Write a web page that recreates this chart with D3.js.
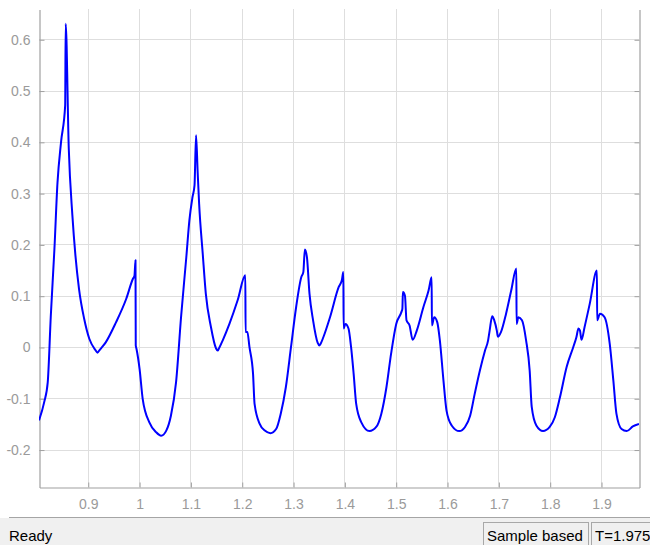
<!DOCTYPE html>
<html>
<head>
<meta charset="utf-8">
<script src="https://cdn.jsdelivr.net/npm/d3@7"></script>
<style>
  html, body { margin: 0; padding: 0; background: #ffffff; }
  svg { display: block; }
  text { font-family: "Liberation Sans", Arial, sans-serif; }
</style>
</head>
<body>
<svg id="chart" width="650" height="545"></svg>
<script>
// Time axis (s) of the sampled signal
const tSec = [
  0.805, 0.815, 0.822, 0.828, 0.835, 0.841, 0.848, 0.856, 0.857, 0.863,
  0.870, 0.876, 0.883, 0.893, 0.903, 0.915, 0.919, 0.923, 0.935, 0.955,
  0.975, 0.988, 0.991, 0.993, 0.9935, 0.995, 1.001, 1.007, 1.020, 1.033,
  1.043, 1.053, 1.062, 1.072, 1.082, 1.092, 1.098, 1.104, 1.108, 1.111,
  1.114, 1.117, 1.124, 1.130, 1.140, 1.150, 1.153, 1.156, 1.163, 1.176,
  1.192, 1.207, 1.2075, 1.211, 1.215, 1.222, 1.225, 1.235, 1.245, 1.256,
  1.267, 1.276, 1.286, 1.296, 1.306, 1.316, 1.320, 1.323, 1.327, 1.332,
  1.339, 1.348, 1.351, 1.354, 1.359, 1.372, 1.389, 1.395, 1.398, 1.3985,
  1.402, 1.408, 1.413, 1.418, 1.423, 1.433, 1.449, 1.462, 1.472, 1.482,
  1.491, 1.501, 1.511, 1.513, 1.514, 1.518, 1.521, 1.527, 1.533, 1.541,
  1.554, 1.564, 1.570, 1.5705, 1.575, 1.581, 1.586, 1.593, 1.599, 1.609,
  1.624, 1.635, 1.645, 1.654, 1.664, 1.674, 1.680, 1.683, 1.688, 1.692,
  1.697, 1.699, 1.705, 1.715, 1.725, 1.735, 1.7355, 1.739, 1.746, 1.754,
  1.761, 1.765, 1.774, 1.787, 1.800, 1.810, 1.820, 1.833, 1.846, 1.852,
  1.856, 1.859, 1.862, 1.868, 1.878, 1.892, 1.8925, 1.898, 1.907, 1.917,
  1.924, 1.930, 1.940, 1.950, 1.962, 1.974
];

// Signal amplitude at each time sample
const signal = [
  -0.143, -0.108, -0.069, 0.061, 0.190, 0.320, 0.400, 0.471, 0.630, 0.387,
  0.257, 0.178, 0.113, 0.055, 0.016, -0.006, -0.011, -0.006, 0.009, 0.048,
  0.094, 0.133, 0.139, 0.169, 0.003, -0.004, -0.043, -0.101, -0.147, -0.166,
  -0.173, -0.163, -0.134, -0.069, 0.061, 0.175, 0.247, 0.292, 0.315, 0.413,
  0.344, 0.279, 0.182, 0.104, 0.039, -0.003, -0.007, -0.002, 0.013, 0.045,
  0.091, 0.140, 0.029, 0.029, 0.000, -0.052, -0.111, -0.150, -0.163, -0.168,
  -0.160, -0.130, -0.078, 0.000, 0.078, 0.136, 0.146, 0.190, 0.175, 0.104,
  0.052, 0.008, 0.003, 0.007, 0.019, 0.058, 0.117, 0.130, 0.146, 0.036,
  0.045, 0.036, 0.000, -0.052, -0.111, -0.147, -0.164, -0.156, -0.130, -0.078,
  -0.013, 0.045, 0.068, 0.075, 0.107, 0.100, 0.052, 0.042, 0.014, 0.032,
  0.078, 0.110, 0.136, 0.042, 0.058, 0.048, 0.013, -0.065, -0.124, -0.153,
  -0.164, -0.156, -0.134, -0.091, -0.046, -0.007, 0.013, 0.032, 0.060, 0.052,
  0.032, 0.020, 0.029, 0.065, 0.110, 0.153, 0.045, 0.058, 0.052, 0.013,
  -0.046, -0.117, -0.153, -0.164, -0.156, -0.137, -0.098, -0.039, 0.000, 0.019,
  0.036, 0.032, 0.014, 0.039, 0.084, 0.149, 0.052, 0.065, 0.058, 0.006,
  -0.065, -0.130, -0.160, -0.164, -0.155, -0.150
];

const xTicks = [0.9, 1.0, 1.1, 1.2, 1.3, 1.4, 1.5, 1.6, 1.7, 1.8, 1.9];
const xTickLabels = ["0.9", "1", "1.1", "1.2", "1.3", "1.4", "1.5", "1.6", "1.7", "1.8", "1.9"];
const yTicks = [-0.2, -0.1, 0, 0.1, 0.2, 0.3, 0.4, 0.5, 0.6];
const yTickLabels = ["-0.2", "-0.1", "0", "0.1", "0.2", "0.3", "0.4", "0.5", "0.6"];

const xDomain = [0.805, 1.974];
const yDomain = [-0.273, 0.659];

const statusText = "Ready";
const modeText = "Sample based";
const timeText = "T=1.975";

// Layout
const plot = { left: 39, right: 639, top: 9, bottom: 487 };
const svg = d3.select("#chart");

const x = d3.scaleLinear().domain(xDomain).range([plot.left, plot.right]);
const y = d3.scaleLinear().domain(yDomain).range([plot.bottom, plot.top]);

// Grid
const grid = svg.append("g").attr("stroke", "#dedede").attr("stroke-width", 1);
grid.selectAll("line.vx").data(xTicks).join("line")
  .attr("x1", d => Math.round(x(d)) + 0.5).attr("x2", d => Math.round(x(d)) + 0.5)
  .attr("y1", plot.top).attr("y2", plot.bottom);
grid.selectAll("line.hy").data(yTicks).join("line")
  .attr("x1", plot.left).attr("x2", plot.right)
  .attr("y1", d => Math.round(y(d)) + 0.5).attr("y2", d => Math.round(y(d)) + 0.5);

// Axes (ticks point inward)
const axisColor = "#a0a0a0";
const labelColor = "#9a9a9a";

const xAxis = d3.axisBottom(x).tickValues(xTicks)
  .tickFormat((d, i) => xTickLabels[i]).tickSizeInner(-5).tickSizeOuter(0).tickPadding(12);
const gx = svg.append("g").attr("transform", `translate(0.5,${plot.bottom + 0.5})`).call(xAxis);

const yAxis = d3.axisLeft(y).tickValues(yTicks)
  .tickFormat((d, i) => yTickLabels[i]).tickSizeInner(-5).tickSizeOuter(0).tickPadding(9);
const gy = svg.append("g").attr("transform", `translate(${plot.left + 0.5},0.5)`).call(yAxis);

const yAxisR = d3.axisRight(y).tickValues(yTicks).tickFormat("").tickSizeInner(-5).tickSizeOuter(0);
const gyr = svg.append("g").attr("transform", `translate(${plot.right + 0.5},0.5)`).call(yAxisR);

[gx, gy, gyr].forEach(g => {
  g.select(".domain").attr("stroke", axisColor).attr("stroke-width", 1.2);
  g.selectAll(".tick line").attr("stroke", axisColor);
  g.selectAll(".tick text")
    .attr("fill", labelColor)
    .style("font-family", "'Liberation Sans', Arial, sans-serif")
    .style("font-size", "14px");
});
gx.selectAll(".tick text").attr("dy", "0.71em");

// Signal trace
svg.append("clipPath").attr("id", "plotClip").append("rect")
  .attr("x", plot.left).attr("y", plot.top)
  .attr("width", plot.right - plot.left).attr("height", plot.bottom - plot.top);

const points = tSec.map((t, i) => [t, signal[i]]);
const line = d3.line().curve(d3.curveMonotoneX).x(d => x(d[0])).y(d => y(d[1]));

svg.append("path")
  .datum(points)
  .attr("clip-path", "url(#plotClip)")
  .attr("fill", "none")
  .attr("stroke", "#0000ff")
  .attr("stroke-width", 2)
  .attr("stroke-linejoin", "round")
  .attr("d", line);

// Status bar
const bar = svg.append("g");
bar.append("rect").attr("x", 0).attr("y", 518).attr("width", 650).attr("height", 27).attr("fill", "#f0f0f0");
bar.append("line").attr("x1", 9).attr("x2", 650).attr("y1", 517.5).attr("y2", 517.5)
  .attr("stroke", "#a5a5a5").attr("stroke-width", 1);
bar.append("text").attr("x", 9).attr("y", 541).attr("fill", "#000")
  .style("font-size", "15px").text(statusText);

bar.append("rect").attr("x", 483.5).attr("y", 522.5).attr("width", 105).attr("height", 30)
  .attr("fill", "none").attr("stroke", "#a8a8a8");
bar.append("text").attr("x", 487).attr("y", 541).attr("fill", "#000")
  .style("font-size", "15px").text(modeText);

bar.append("rect").attr("x", 591.5).attr("y", 522.5).attr("width", 70).attr("height", 30)
  .attr("fill", "none").attr("stroke", "#a8a8a8");
bar.append("text").attr("x", 595).attr("y", 541).attr("fill", "#000")
  .style("font-size", "15px").text(timeText);
</script>
</body>
</html>
